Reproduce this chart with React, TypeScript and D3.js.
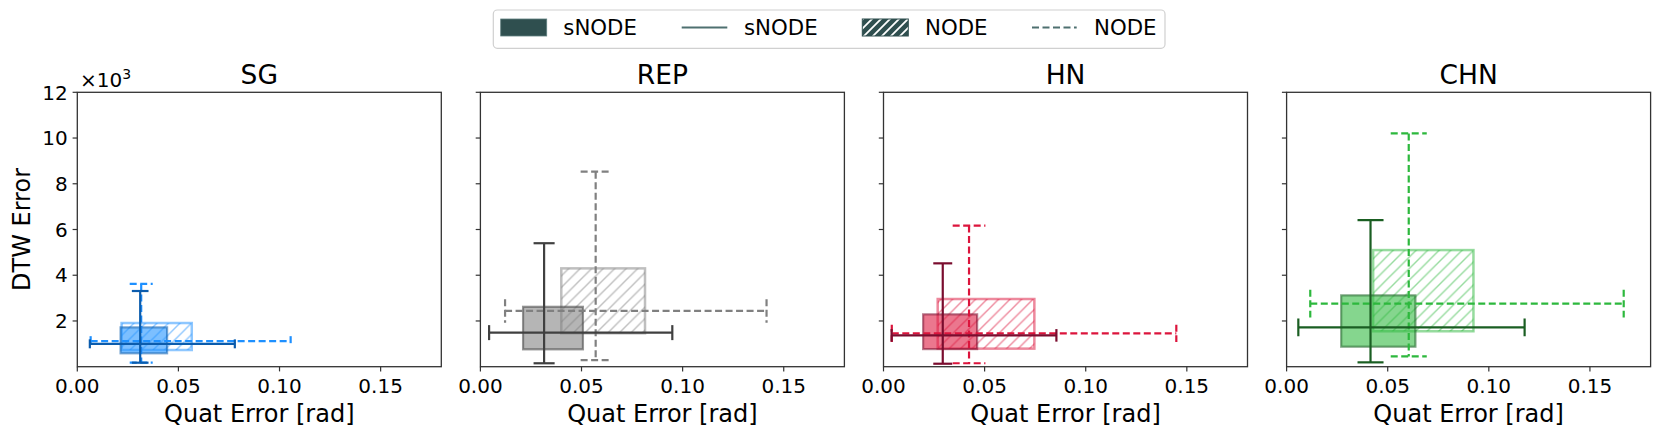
import React from "react";
import * as d3 from "d3";

// ---------- data ----------
const panelTitles = ["SG", "REP", "HN", "CHN"];
const lightColors = ["#1E90FF", "#808080", "#DC143C", "#2DB83D"];
const darkColors = ["#0B5CAD", "#404040", "#7A0C2E", "#1A5E22"];

// sNODE (solid)
const sBoxX0 = [0.0214, 0.0211, 0.0196, 0.027];
const sBoxX1 = [0.0444, 0.0507, 0.0463, 0.0637];
const sBoxY0 = [0.586, 0.76, 0.77, 0.875];
const sBoxY1 = [1.72, 2.62, 2.29, 3.12];
const sMedX = [0.0311, 0.0315, 0.0293, 0.0415];
const sMedY = [1.0, 1.49, 1.37, 1.72];
const sWhX0 = [0.0062, 0.0043, 0.004, 0.0058];
const sWhX1 = [0.0779, 0.0949, 0.0855, 0.1177];
const sWhY0 = [0.175, 0.15, 0.13, 0.19];
const sWhY1 = [3.31, 5.4, 4.52, 6.41];

// NODE (dashed / hatched)
const nBoxX0 = [0.0219, 0.04, 0.0268, 0.0428];
const nBoxX1 = [0.0566, 0.0814, 0.0746, 0.0924];
const nBoxY0 = [0.73, 1.46, 0.79, 1.55];
const nBoxY1 = [1.91, 4.3, 2.96, 5.1];
const nMedX = [0.0316, 0.057, 0.0423, 0.0604];
const nMedY = [1.12, 2.44, 1.46, 2.76];
const nWhX0 = [0.0066, 0.0122, 0.0041, 0.0117];
const nWhX1 = [0.1055, 0.1415, 0.1448, 0.1667];
const nWhY0 = [0.175, 0.29, 0.15, 0.45];
const nWhY1 = [3.62, 8.53, 6.17, 10.2];

const xTicks = [0, 0.05, 0.1, 0.15];
const xTickLabels = ["0.00", "0.05", "0.10", "0.15"];
const yTicks = [2, 4, 6, 8, 10, 12];
const legendLabels = ["sNODE", "sNODE", "NODE", "NODE"];

// ---------- layout ----------
const W = 1661;
const H = 437;
const panelLeft0 = 77.3;
const panelStep = 403.1;
const panelTop = 92.3;
const panelW = 364;
const panelH = 274.4;
const FONT = "DejaVu Sans, Verdana, sans-serif";
const SPINE = "#333333";

const xScale = d3.scaleLinear().domain([0, 0.18]).range([0, panelW]);
const yScale = d3.scaleLinear().domain([0, 12]).range([panelH, 0]);

function Whiskers({ i, solid }: { i: number; solid: boolean }) {
  const mx = solid ? sMedX[i] : nMedX[i];
  const my = solid ? sMedY[i] : nMedY[i];
  const x0 = xScale(solid ? sWhX0[i] : nWhX0[i]);
  const x1 = xScale(solid ? sWhX1[i] : nWhX1[i]);
  const y0 = yScale(solid ? sWhY0[i] : nWhY0[i]);
  const y1 = yScale(solid ? sWhY1[i] : nWhY1[i]);
  const cx = xScale(mx);
  const cy = yScale(my);
  const capW = (x1 - x0) * 0.115 / 2; // caps on vertical whisker
  const capH = (y0 - y1) * 0.125 / 2; // caps on horizontal whisker
  const stroke = solid ? darkColors[i] : lightColors[i];
  const dash = solid ? undefined : "7,3.5";
  const common = { stroke, strokeWidth: 2.2, strokeDasharray: dash, fill: "none" } as any;
  return (
    <g>
      <line x1={x0} x2={x1} y1={cy} y2={cy} {...common} />
      <line x1={x0} x2={x0} y1={cy - capH} y2={cy + capH} {...common} />
      <line x1={x1} x2={x1} y1={cy - capH} y2={cy + capH} {...common} />
      <line x1={cx} x2={cx} y1={y1} y2={y0} {...common} />
      <line x1={cx - capW} x2={cx + capW} y1={y1} y2={y1} {...common} />
      <line x1={cx - capW} x2={cx + capW} y1={y0} y2={y0} {...common} />
    </g>
  );
}

function Panel({ i }: { i: number }) {
  const left = panelLeft0 + i * panelStep;
  const light = lightColors[i];
  const dark = darkColors[i];
  return (
    <g transform={`translate(${left},${panelTop})`}>
      <defs>
        <pattern id={`hatch${i}`} patternUnits="userSpaceOnUse" width={11.5} height={11.5}>
          <path d="M0,11.5 L11.5,0 M-2,2 L2,-2 M9.5,13.5 L13.5,9.5" stroke={light} strokeOpacity={0.5} strokeWidth={1.4} />
        </pattern>
      </defs>
      {/* NODE box */}
      <rect
        x={xScale(nBoxX0[i])}
        y={yScale(nBoxY1[i])}
        width={xScale(nBoxX1[i]) - xScale(nBoxX0[i])}
        height={yScale(nBoxY0[i]) - yScale(nBoxY1[i])}
        fill={`url(#hatch${i})`}
        stroke={light}
        strokeOpacity={0.5}
        strokeWidth={2.5}
      />
      {/* sNODE box */}
      <rect
        x={xScale(sBoxX0[i])}
        y={yScale(sBoxY1[i])}
        width={xScale(sBoxX1[i]) - xScale(sBoxX0[i])}
        height={yScale(sBoxY0[i]) - yScale(sBoxY1[i])}
        fill={light}
        fillOpacity={0.58}
        stroke={dark}
        strokeOpacity={0.55}
        strokeWidth={2.2}
      />
      <Whiskers i={i} solid={false} />
      <Whiskers i={i} solid={true} />
      {/* spines */}
      <rect x={0} y={0} width={panelW} height={panelH} fill="none" stroke={SPINE} strokeWidth={1.3} />
      {/* x ticks */}
      {xTicks.map((t, k) => (
        <g key={k} transform={`translate(${xScale(t)},${panelH})`}>
          <line y1={0} y2={4.7} stroke={SPINE} strokeWidth={1.2} />
          <text y={26.8} textAnchor="middle" fontSize={20} fontFamily={FONT} fill="#000">
            {xTickLabels[k]}
          </text>
        </g>
      ))}
      {/* y ticks */}
      {yTicks.map((t, k) => (
        <g key={k} transform={`translate(0,${yScale(t)})`}>
          <line x1={0} x2={-4.7} stroke={SPINE} strokeWidth={1.2} />
          {i === 0 && (
            <text x={-9.5} dy="0.36em" textAnchor="end" fontSize={20} fontFamily={FONT} fill="#000">
              {t}
            </text>
          )}
        </g>
      ))}
      {/* title */}
      <text x={panelW / 2} y={84 - panelTop} textAnchor="middle" fontSize={26.5} fontFamily={FONT} fill="#000">
        {panelTitles[i]}
      </text>
      {/* x label */}
      <text x={panelW / 2} y={422.5 - panelTop} textAnchor="middle" fontSize={24} fontFamily={FONT} fill="#000">
        Quat Error [rad]
      </text>
      {i === 0 && (
        <text x={80 - left} y={86.5 - panelTop} fontSize={20} fontFamily={FONT} fill="#000">
          ×10
          <tspan fontSize={14} dy={-8}>3</tspan>
        </text>
      )}
    </g>
  );
}

function Legend() {
  const boxX = 493.3;
  const boxY = 10;
  const boxW = 1165 - 493.3;
  const boxH = 38.3;
  const midY = 27.5;
  const handleX = [500.7, 681.7, 862.3, 1032];
  const textX = [563.3, 744, 925, 1094];
  const slate = "#2F4F4F";
  const lineCol = "#4E7070";
  return (
    <g>
      <defs>
        <pattern id="legHatch" patternUnits="userSpaceOnUse" width={9} height={9}>
          <rect width={9} height={9} fill={slate} />
          <path d="M0,9 L9,0 M-2,2 L2,-2 M7,11 L11,7" stroke="#ffffff" strokeWidth={1.8} />
        </pattern>
      </defs>
      <rect x={boxX} y={boxY} width={boxW} height={boxH} rx={4} fill="#fff" stroke="#d0d0d0" strokeWidth={1.2} />
      <rect x={handleX[0]} y={19} width={46} height={17} fill={slate} stroke="#5f7f7f" strokeWidth={0.8} />
      <line x1={handleX[1]} x2={handleX[1] + 45.6} y1={midY} y2={midY} stroke={lineCol} strokeWidth={2.2} />
      <rect x={handleX[2]} y={19} width={46} height={17} fill="url(#legHatch)" stroke={slate} strokeWidth={1} />
      <line x1={handleX[3]} x2={handleX[3] + 44.7} y1={midY} y2={midY} stroke={lineCol} strokeWidth={2.2} strokeDasharray="7,3.5" />
      {legendLabels.map((l, k) => (
        <text key={k} x={textX[k]} y={midY} dy="0.36em" fontSize={21.3} fontFamily={FONT} fill="#000">
          {l}
        </text>
      ))}
    </g>
  );
}

export default function App() {
  return (
    <svg
      width={W}
      height={H}
      viewBox={`0 0 ${W} ${H}`}
      style={{ position: "absolute", left: 0, top: 0, display: "block", background: "#fff" }}
    >
      <rect width={W} height={H} fill="#fff" />
      <Legend />
      {panelTitles.map((_, i) => (
        <Panel key={i} i={i} />
      ))}
      <text
        transform={`translate(30,229.5) rotate(-90)`}
        textAnchor="middle"
        fontSize={24}
        fontFamily={FONT}
        fill="#000"
      >
        DTW Error
      </text>
    </svg>
  );
}
